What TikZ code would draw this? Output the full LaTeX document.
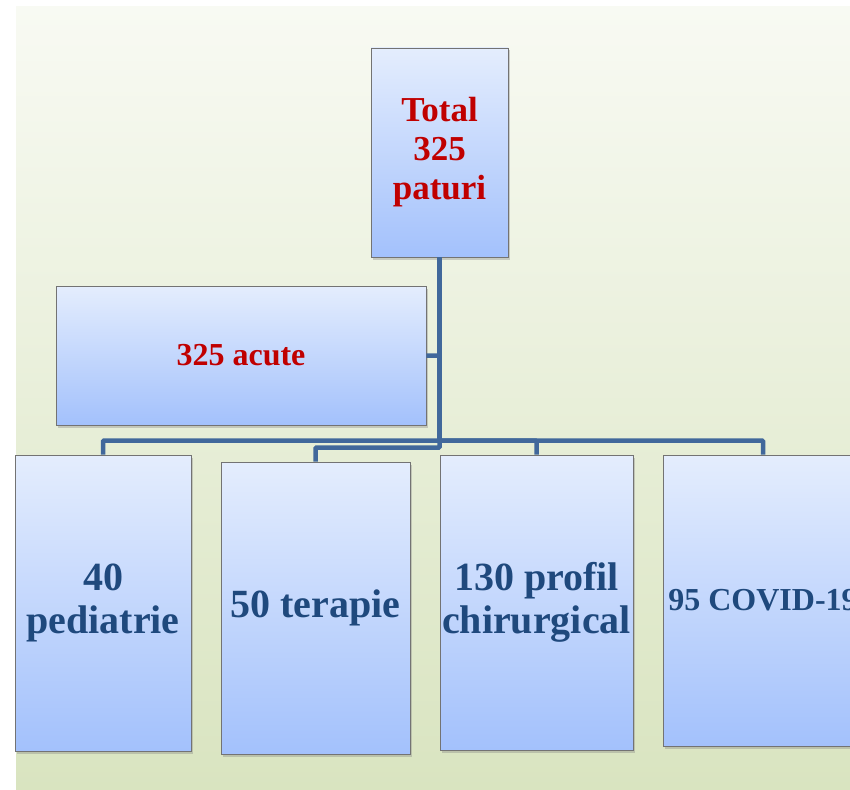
\documentclass[tikz,border=0pt]{standalone}
\usepackage{fontspec}
\setmainfont{Liberation Serif}
\usepackage{xcolor}
\usetikzlibrary{shadows}
\definecolor{bedred}{RGB}{192,0,0}
\definecolor{bedblue}{RGB}{31,73,125}
\definecolor{linkblue}{RGB}{65,104,155}
\definecolor{boxtop}{RGB}{228,237,253}
\definecolor{boxbot}{RGB}{163,193,252}
\definecolor{bgtop}{RGB}{248,250,243}
\definecolor{bgbot}{RGB}{217,228,192}
\newcommand{\bedsize}[2]{\bfseries\fontsize{#1}{#2}\selectfont}

\begin{document}
\begin{tikzpicture}[x=1pt, y=-1pt, inner sep=0pt, align=center,
    ward/.style={draw=black!55, line width=0.8pt, top color=boxtop, bottom color=boxbot,
      drop shadow={opacity=0.35, shadow xshift=2pt, shadow yshift=-2.5pt}},
    link/.style={draw=linkblue, line width=4.5pt, rounded corners=1pt}]
  \useasboundingbox (0,0) rectangle (850,789);
  \fill[top color=bgtop, bottom color=bgbot] (16,7) rectangle (850,789);
  % top and side box
  \node[ward, minimum width=137pt, minimum height=209pt, text=bedred,
    font=\bedsize{35}{39}] (total) at (439.5,152.5) {Total\\325\\paturi};
  \node[ward, minimum width=370pt, minimum height=139pt, text=bedred,
    font=\bedsize{32}{36}] (acute) at (241,355.5) {325 acute};
  % wards
  \begin{scope}[font=\bedsize{40}{43}, text=bedblue]
    \node[ward, minimum width=176pt, minimum height=296pt] (b1) at (103,603) {40\\pediatrie};
    \node[ward, minimum width=189pt, minimum height=292pt] (b2) at (315.5,608) {50 terapie};
    \node[ward, minimum width=193pt, minimum height=295pt] (b3) at (536.5,602.5) {130 profil\\chirurgical};
    \node[ward, minimum width=200pt, minimum height=291pt,
      font=\bedsize{32}{36}] (b4) at (763,600.5) {95 COVID-19};
  \end{scope}
  \draw[link] (total.south) |- (acute.east);
  \foreach \b in {b1,b2,b3,b4}{
    \draw[link] (total.south) |- ([yshift=14pt]\b.north) -- (\b.north);
  }
\end{tikzpicture}
\end{document}
